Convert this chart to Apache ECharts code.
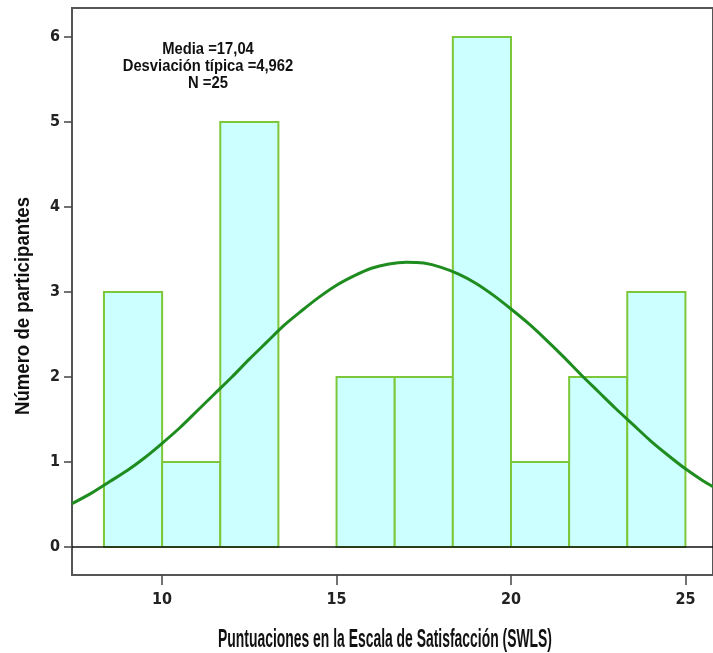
<!DOCTYPE html>
<html>
<head>
<meta charset="utf-8">
<script src="https://cdn.jsdelivr.net/npm/echarts@6/dist/echarts.min.js"></script>
<style>html,body{margin:0;padding:0;background:#fff}#c{width:713px;height:653px}</style>
</head>
<body>
<div id="c"></div>
<script>
// Histogram bins (edges) and counts
const binEdges = [8.333, 10, 11.667, 13.333, 15, 16.667, 18.333, 20, 21.667, 23.333, 25];
const counts   = [3, 1, 5, 0, 2, 2, 6, 1, 2, 3];
// Normal curve points
const curveX = [7.417, 8, 8.5, 9, 9.5, 10, 10.5, 11, 11.5, 12, 12.5, 13, 13.5, 14, 14.5, 15, 15.5, 16, 16.5, 17, 17.5, 18, 18.5, 19, 19.5, 20, 20.5, 21, 21.5, 22, 22.5, 23, 23.5, 24, 24.5, 25, 25.5, 25.79];
const curveY = [0.51, 0.64, 0.77, 0.90, 1.05, 1.22, 1.40, 1.60, 1.80, 2.00, 2.21, 2.41, 2.61, 2.78, 2.94, 3.08, 3.19, 3.28, 3.33, 3.35, 3.34, 3.29, 3.21, 3.10, 2.96, 2.80, 2.63, 2.44, 2.24, 2.03, 1.83, 1.63, 1.44, 1.25, 1.08, 0.92, 0.78, 0.71];
const xTicks = [10, 15, 20, 25];
const yTicks = [0, 1, 2, 3, 4, 5, 6];
const statLines = ['Media =17,04', 'Desviación típica =4,962', 'N =25'];
const xTitle = 'Puntuaciones en la Escala de Satisfacción (SWLS)';
const yTitle = 'Número de participantes';

const barData = counts.map((c, i) => [binEdges[i], binEdges[i + 1], c]);
const curveData = curveX.map((x, i) => [x, curveY[i]]);

const chart = echarts.init(document.getElementById('c'));
const tickFont = { fontFamily: '"Liberation Sans Narrow", "DejaVu Sans Condensed", sans-serif', fontWeight: 'bold', fontSize: 16, color: '#222' };

chart.setOption({
  animation: false,
  backgroundColor: '#fff',
  grid: { left: 72, right: -4, top: 8, bottom: 78, show: true, borderColor: '#555', borderWidth: 2, backgroundColor: 'transparent' },
  xAxis: {
    type: 'value', min: 7.417, max: 25.79,
    axisLine: { show: false, onZero: false },
    splitLine: { show: false },
    axisTick: { show: true, inside: false, customValues: xTicks, length: 10, lineStyle: { color: '#444', width: 1.5 } },
    axisLabel: Object.assign({ customValues: xTicks, margin: 17 }, tickFont)
  },
  yAxis: {
    type: 'value', min: -0.329, max: 6.341,
    axisLine: { show: false, onZero: false },
    splitLine: { show: false },
    axisTick: { show: true, inside: false, customValues: yTicks, length: 8, lineStyle: { color: '#444', width: 1.5 } },
    axisLabel: Object.assign({ customValues: yTicks, margin: 12 }, tickFont)
  },
  graphic: [
    { type: 'text', x: 385, y: 640, scaleX: 0.535, z: 10,
      style: { text: xTitle, x: 0, y: 0, textAlign: 'center', textVerticalAlign: 'middle', fontFamily: '"Liberation Sans", Arial, sans-serif', fontWeight: 'bold', fontSize: 26, fill: '#111' } },
    { type: 'text', x: 23, y: 306, rotation: Math.PI / 2, scaleX: 0.93, z: 10,
      style: { text: yTitle, x: 0, y: 0, textAlign: 'center', textVerticalAlign: 'middle', fontFamily: '"Liberation Sans", Arial, sans-serif', fontWeight: 'bold', fontSize: 20, fill: '#111' } },
    { type: 'text', x: 208, y: 66, scaleX: 0.87, z: 10,
      style: { text: statLines.join('\n'), x: 0, y: 0, textAlign: 'center', textVerticalAlign: 'middle', lineHeight: 17, fontFamily: '"Liberation Sans", Arial, sans-serif', fontWeight: 'bold', fontSize: 17, fill: '#111' } }
  ],
  series: [
    {
      type: 'custom',
      data: barData,
      encode: { x: [0, 1], y: 2 },
      renderItem: function (params, api) {
        const c = api.value(2);
        if (c <= 0) return null;
        const p0 = api.coord([api.value(0), 0]);
        const p1 = api.coord([api.value(1), c]);
        return {
          type: 'rect',
          shape: { x: p0[0], y: p1[1], width: p1[0] - p0[0], height: p0[1] - p1[1] },
          style: { fill: '#ccffff', stroke: '#7cc83a', lineWidth: 2 }
        };
      },
      z: 2
    },
    {
      type: 'line',
      data: curveData,
      smooth: 0.3,
      showSymbol: false,
      symbol: 'none',
      lineStyle: { color: '#1e8c1e', width: 3 },
      z: 4,
      markLine: {
        silent: true, symbol: 'none', label: { show: false },
        lineStyle: { color: '#111', width: 1.5, type: 'solid' },
        data: [{ yAxis: 0 }]
      }
    }
  ]
});
</script>
</body>
</html>
